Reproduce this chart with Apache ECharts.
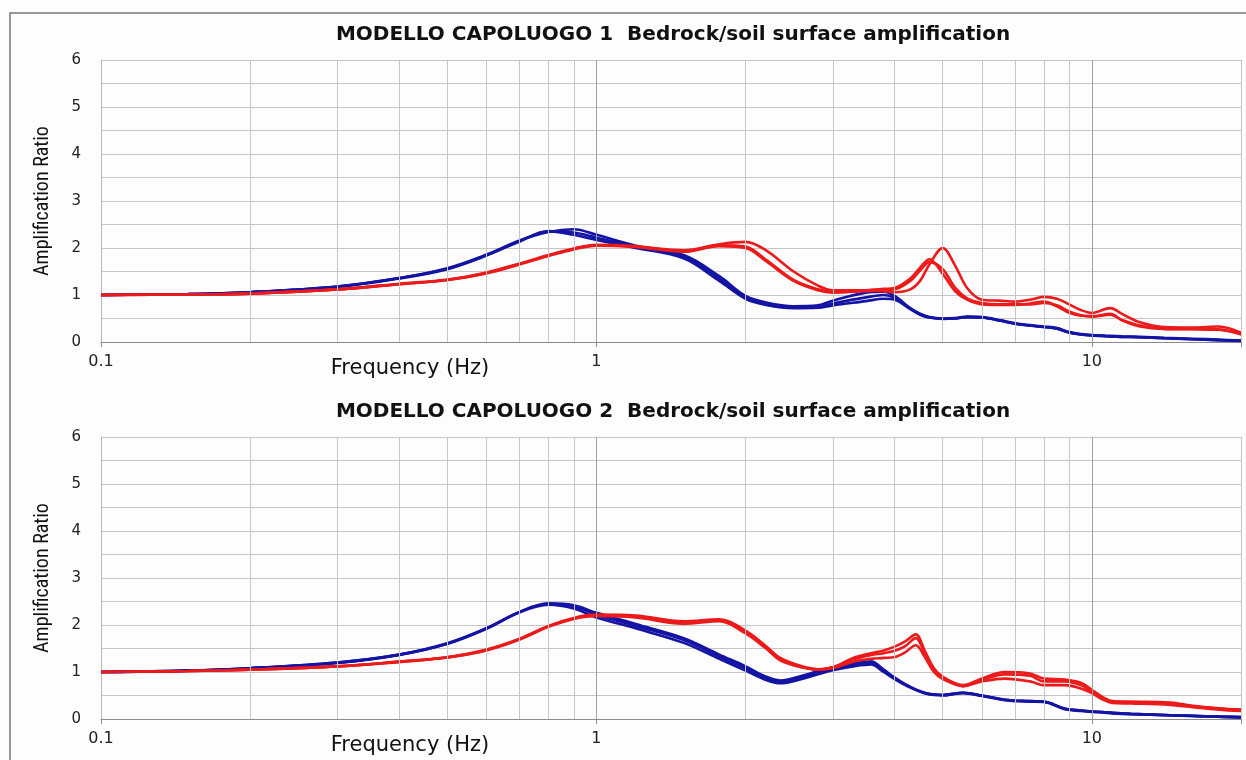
<!DOCTYPE html>
<html>
<head>
<meta charset="utf-8">
<script src="https://cdn.jsdelivr.net/npm/echarts@6/dist/echarts.min.js"></script>
<style>html,body{margin:0;padding:0;background:#fff}#c{width:1246px;height:760px}</style>
</head>
<body>
<div id="c"></div>
<script>
// ---------- DATA ----------
const titles = ['MODELLO CAPOLUOGO 1  Bedrock/soil surface amplification',
                'MODELLO CAPOLUOGO 2  Bedrock/soil surface amplification'];
const xName = 'Frequency (Hz)';
const yName = 'Amplification Ratio';
const xTickLabels = [0.1, 1, 10];
const gridFreqs = [0.2,0.3,0.4,0.5,0.6,0.7,0.8,0.9,1,2,3,4,5,6,7,8,9,10,20];

const freq1 = [0.1,0.15,0.2,0.3,0.4,0.5,0.6,0.7,0.8,0.9,1.0,1.2,1.5,1.77,2.0,2.2,2.5,2.8,3.0,3.5,3.8,4.0,4.3,4.5,4.7,5.0,5.3,5.6,6.0,6.5,7.0,7.5,8.0,8.5,9.0,9.5,10.0,10.9,11.5,12.5,14,16,18,20];
const blue1A = [1.00,1.02,1.06,1.18,1.36,1.57,1.86,2.16,2.34,2.40, 2.28,2.05,1.85,1.40,0.98,0.84,0.76,0.78,0.88,1.05, 1.07,0.98,0.72,0.60,0.53,0.50,0.51,0.54,0.53,0.47, 0.40,0.36,0.33,0.30,0.21,0.17,0.15,0.13,0.12,0.11, 0.09,0.07,0.05,0.03];
const blue1B = [1.00,1.02,1.06,1.17,1.35,1.55,1.84,2.14,2.36,2.28, 2.17,2.00,1.78,1.30,0.92,0.79,0.72,0.73,0.78,0.87, 0.92,0.90,0.70,0.58,0.52,0.49,0.50,0.53,0.52,0.46, 0.39,0.35,0.32,0.28,0.20,0.16,0.14,0.12,0.11,0.10, 0.08,0.06,0.04,0.02];
const blue1C = [1.00,1.02,1.06,1.18,1.36,1.56,1.85,2.15,2.35,2.33, 2.22,2.02,1.81,1.35,0.95,0.81,0.74,0.75,0.82,0.95, 1.00,0.94,0.71,0.59,0.52,0.50,0.50,0.53,0.52,0.46, 0.39,0.35,0.32,0.29,0.20,0.16,0.14,0.12,0.11,0.10, 0.08,0.06,0.04,0.03];
const red1A = [1.00,1.01,1.03,1.12,1.23,1.32,1.47,1.66,1.84,1.98, 2.06,2.03,1.95,2.08,2.13,1.95,1.50,1.20,1.10,1.10, 1.08,1.06,1.12,1.30,1.65,2.00,1.62,1.15,0.90,0.88, 0.86,0.90,0.96,0.92,0.80,0.68,0.62,0.72,0.60,0.42, 0.32,0.31,0.33,0.20];
const red1B = [1.00,1.01,1.03,1.12,1.24,1.33,1.48,1.67,1.85,1.99, 2.07,2.04,1.93,2.06,2.03,1.75,1.32,1.12,1.07,1.10, 1.13,1.15,1.35,1.58,1.76,1.45,1.08,0.90,0.80,0.79, 0.79,0.82,0.86,0.76,0.62,0.56,0.55,0.60,0.46,0.33, 0.28,0.28,0.27,0.16];
const red1C = [1.00,1.01,1.03,1.12,1.23,1.32,1.46,1.65,1.83,1.97, 2.05,2.02,1.92,2.04,2.00,1.72,1.30,1.10,1.05,1.08, 1.10,1.12,1.30,1.52,1.70,1.55,1.15,0.93,0.83,0.80, 0.80,0.80,0.83,0.78,0.65,0.57,0.54,0.58,0.47,0.35, 0.28,0.27,0.26,0.17];

const freq2 = [0.1,0.15,0.2,0.3,0.4,0.5,0.6,0.7,0.8,0.9,1.0,1.2,1.5,1.77,2.0,2.2,2.35,2.6,2.8,3.0,3.3,3.58,3.8,4.0,4.2,4.41,4.6,4.8,5.0,5.5,6.0,6.67,7.5,8.0,8.82,9.5,10,10.5,11,12,14.4,16,18,20];
const blue2A = [1.00,1.03,1.08,1.20,1.37,1.61,1.93,2.28,2.46,2.42, 2.26,2.02,1.72,1.37,1.12,0.90,0.82,0.92,1.02,1.10, 1.18,1.23,1.05,0.88,0.74,0.63,0.56,0.52,0.51,0.56, 0.50,0.41,0.38,0.37,0.22,0.18,0.16,0.15,0.13,0.11, 0.08,0.07,0.05,0.04];
const blue2B = [1.00,1.03,1.08,1.19,1.36,1.60,1.92,2.27,2.43,2.35, 2.16,1.93,1.62,1.28,1.03,0.83,0.76,0.85,0.95,1.04, 1.12,1.16,1.00,0.85,0.72,0.62,0.55,0.51,0.50,0.55, 0.49,0.40,0.37,0.36,0.21,0.17,0.15,0.14,0.12,0.10, 0.08,0.06,0.05,0.03];
const blue2C = [1.00,1.03,1.08,1.20,1.37,1.60,1.93,2.28,2.45,2.40, 2.22,1.98,1.68,1.33,1.08,0.87,0.79,0.88,0.98,1.07, 1.15,1.20,1.03,0.87,0.73,0.62,0.55,0.52,0.51,0.56, 0.50,0.41,0.38,0.37,0.22,0.18,0.16,0.15,0.13,0.11, 0.08,0.07,0.05,0.04];
const red2A = [1.00,1.02,1.05,1.12,1.22,1.32,1.48,1.71,1.98,2.15, 2.22,2.20,2.08,2.12,1.88,1.55,1.30,1.12,1.06,1.10, 1.30,1.40,1.46,1.54,1.65,1.80,1.45,1.08,0.90,0.72, 0.86,1.00,0.97,0.86,0.84,0.77,0.62,0.47,0.38,0.37, 0.35,0.28,0.23,0.20];
const red2B = [1.00,1.02,1.05,1.12,1.22,1.31,1.47,1.70,1.97,2.14, 2.20,2.17,2.04,2.10,1.85,1.52,1.27,1.10,1.05,1.10, 1.27,1.36,1.40,1.45,1.55,1.72,1.40,1.05,0.88,0.70, 0.83,0.95,0.92,0.80,0.80,0.72,0.58,0.44,0.36,0.35, 0.33,0.27,0.22,0.19];
const red2C = [1.00,1.02,1.05,1.12,1.21,1.31,1.46,1.69,1.96,2.13, 2.19,2.16,2.03,2.08,1.82,1.50,1.25,1.10,1.05,1.08, 1.22,1.28,1.30,1.32,1.42,1.57,1.32,1.00,0.85,0.70, 0.80,0.86,0.80,0.72,0.72,0.65,0.55,0.42,0.34,0.33, 0.30,0.25,0.20,0.17];

// ---------- BUILD ----------
const BLUE = '#1414a4', RED = '#ec1a1a';
const panels = [
  {freq: freq1, blues: [blue1A, blue1B, blue1C], reds: [red1A, red1B, red1C]},
  {freq: freq2, blues: [blue2A, blue2B, blue2C], reds: [red2A, red2B, red2C]}
];
const zip = (f, v) => f.map((x, i) => [x, v[i]]);
const gridTops = [60, 437];
const plotH = 282;

const series = [];
panels.forEach((p, i) => {
  series.push({
    type: 'line', xAxisIndex: i, yAxisIndex: i, data: [[0.1, 0]], silent: true, z: 1,
    showSymbol: false, lineStyle: {opacity: 0},
    markLine: {
      silent: true, animation: false, symbol: ['none', 'none'], label: {show: false},
      lineStyle: {type: 'solid', width: 1, color: '#c6c6c6'},
      emphasis: {disabled: true},
      data: gridFreqs.map(f => ({xAxis: f, lineStyle: {type: 'solid', width: 1, color: (f === 1 || f === 10) ? '#a0a0a0' : '#c6c6c6'}}))
    }
  });
  p.blues.forEach(b => series.push({
    type: 'line', xAxisIndex: i, yAxisIndex: i, data: zip(p.freq, b), smooth: 0.35,
    showSymbol: false, z: 3, lineStyle: {color: BLUE, width: 2.6}, itemStyle: {color: BLUE}
  }));
  p.reds.forEach(r => series.push({
    type: 'line', xAxisIndex: i, yAxisIndex: i, data: zip(p.freq, r), smooth: 0.35,
    showSymbol: false, z: 4, lineStyle: {color: RED, width: 2.6}, itemStyle: {color: RED}
  }));
});

const option = {
  animation: false,
  backgroundColor: '#fdfdfd',
  title: titles.map((t, i) => ({
    text: t, left: 668, top: gridTops[i] - 40, textAlign: 'center',
    textStyle: {fontFamily: 'DejaVu Sans', fontWeight: 'bold', fontSize: 20, color: '#111'}
  })),
  grid: gridTops.map(t => ({left: 101, top: t, width: 1140, height: plotH})),
  xAxis: [0, 1].map(i => ({
    type: 'log', logBase: 10, min: 0.1, max: 20, gridIndex: i,
    axisLine: {show: true, lineStyle: {color: '#8c8c8c', width: 1}},
    axisTick: {show: true, length: 5, lineStyle: {color: '#8c8c8c'}},
    splitLine: {show: false},
    axisLabel: {
      margin: 12, fontFamily: 'DejaVu Sans', fontSize: 16, color: '#222',
      formatter: v => {
        const hit = xTickLabels.find(t => Math.abs(t - v) / t < 1e-6);
        return hit === undefined ? '' : String(hit);
      }
    }
  })),
  yAxis: [0, 1].map(i => ({
    type: 'value', min: 0, max: 6, interval: 0.5, gridIndex: i,
    axisLine: {show: true, lineStyle: {color: '#b8b8b8'}},
    axisTick: {show: false},
    splitLine: {show: true, lineStyle: {color: '#c6c6c6', width: 1}},
    axisLabel: {
      margin: 20, fontFamily: 'DejaVu Sans', fontSize: 15, color: '#222',
      formatter: v => Number.isInteger(v) ? String(v) : ''
    },
    name: yName, nameLocation: 'middle', nameGap: 48, nameRotate: 90,
    nameTextStyle: {fontFamily: 'Liberation Sans Narrow, Roboto Condensed, Liberation Sans', fontSize: 20, color: '#111'}
  })),
  graphic: [
    {type: 'rect', silent: true, z: 0, shape: {x: 10, y: 13, width: 1260, height: 780},
     style: {fill: 'none', stroke: '#7a7a7a', lineWidth: 1.5}},
    ...gridTops.map(t => ({
      type: 'text', silent: true, x: 410, y: t + plotH + 27,
      style: {text: xName, font: '21px "DejaVu Sans"', fill: '#111', textAlign: 'center', textVerticalAlign: 'middle'}
    }))
  ],
  series
};
const chart = echarts.init(document.getElementById('c'), null, {renderer: 'canvas'});
chart.setOption(option);
</script>
</body>
</html>
